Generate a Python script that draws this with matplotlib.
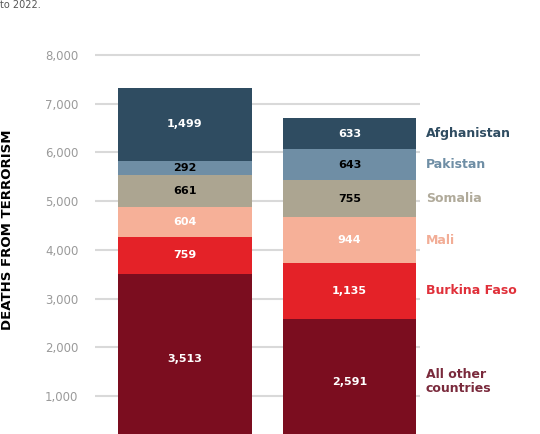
import matplotlib
matplotlib.use("Agg")
import matplotlib.pyplot as plt
import numpy as np

# data, bottom to top
categories = ['All other\ncountries', 'Burkina Faso', 'Mali', 'Somalia', 'Pakistan', 'Afghanistan']
deaths_2015 = [3513, 759, 604, 661, 292, 1499]
deaths_2022 = [2591, 1135, 944, 755, 643, 633]
y_ticks = [1000, 2000, 3000, 4000, 5000, 6000, 7000, 8000]

colors = ['#7b0d1f', '#e42228', '#f6b098', '#aca591', '#6f8ea5', '#2f4c61']
label_colors = ['white', 'white', 'white', 'black', 'black', 'white']
name_colors = ['#7a2a3c', '#e0303a', '#f2ad96', '#b0aa9a', '#6f8ea5', '#2f4c61']

fig = plt.figure(figsize=(5.4, 4.34), dpi=100)
ax = fig.add_axes([95 / 540, 0, 325 / 540, 1])

x = [0, 1]
width = 0.81
bottoms = np.zeros(2)
for i, cat in enumerate(categories):
    vals = np.array([deaths_2015[i], deaths_2022[i]])
    ax.bar(x, vals, width, bottom=bottoms, color=colors[i], zorder=3)
    for j in range(2):
        ax.text(x[j], bottoms[j] + vals[j] / 2, f'{vals[j]:,}', ha='center', va='center',
                color=label_colors[i], fontsize=8, fontweight='bold', zorder=4)
    # category names to the right of the second bar
    ax.text(1.465, bottoms[1] + vals[1] / 2, cat, ha='left', va='center',
            color=name_colors[i], fontsize=9, fontweight='bold', linespacing=1.1)
    bottoms += vals

ax.set_xlim(-0.547, 1.4286)
ax.set_ylim(220, 9130)
ax.set_yticks(y_ticks)
ax.set_yticklabels([f'{t:,}' for t in y_ticks])
ax.set_xticks([])
ax.tick_params(axis='y', length=0, pad=12, labelsize=8.5, labelcolor='#9a9a9a')
ax.grid(axis='y', color='#d9d9d9', linewidth=1.5, zorder=0)
for s in ax.spines.values():
    s.set_visible(False)

fig.text(8 / 540, 1 - 230 / 434, 'DEATHS FROM TERRORISM', rotation=90, ha='center', va='center',
         fontsize=9.5, fontweight='bold', color='black')
fig.text(0.0, 1.0, 'to 2022.', ha='left', va='top', fontsize=7, color='#555555')

fig.savefig('out.png', dpi=100)
